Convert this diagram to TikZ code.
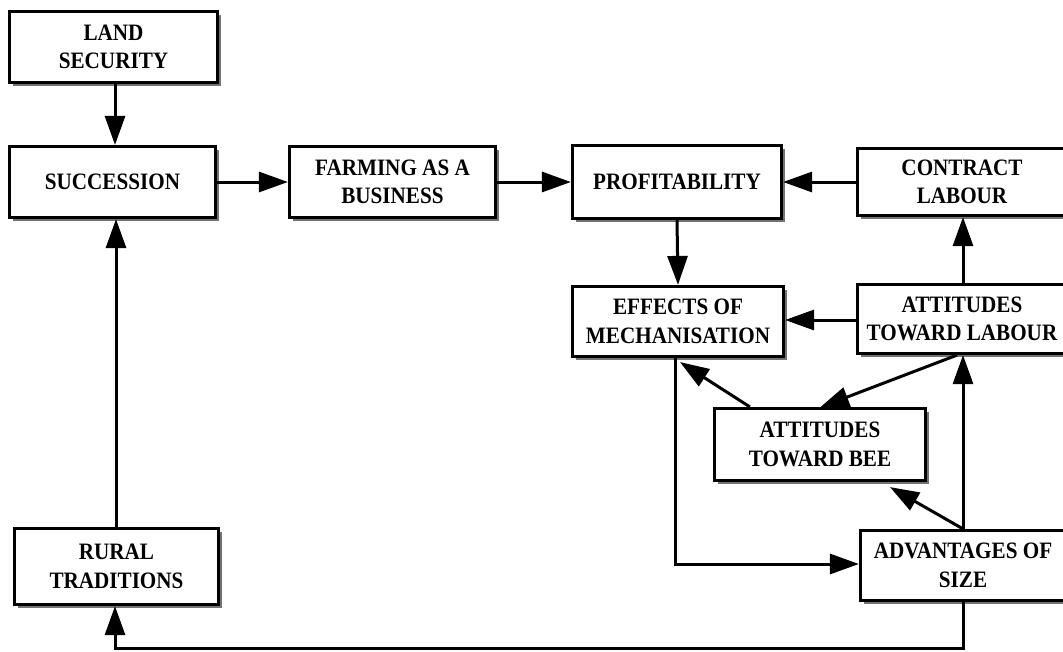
\documentclass[tikz,border=0pt]{standalone}
\usepackage{fontspec}
\setmainfont{Liberation Serif}[FakeStretch=0.9]
\usetikzlibrary{arrows.meta,shadows,calc}
\tikzset{
  box/.style={draw=black, line width=3.2pt, fill=white, align=center, inner sep=0pt,
    font=\fontsize{23.5}{28.5}\selectfont\bfseries,
    drop shadow={shadow xshift=3.5pt, shadow yshift=-3.5pt, fill=black!55, opacity=1}},
  arr/.style={line width=3pt, -{Triangle[length=29pt,width=20pt]}},
  ln/.style={line width=3pt}
}
\begin{document}
\begin{tikzpicture}[x=1pt,y=-1pt]
\useasboundingbox (0,0) rectangle (1063,651);
\clip (0,0) rectangle (1063,651);
\fill[white] (0,0) rectangle (1063,651);
\node[box, minimum width=208pt, minimum height=71pt] (land) at (113.5,47) {LAND\\SECURITY};
\node[box, minimum width=206pt, minimum height=71pt] (succ) at (112.5,182) {SUCCESSION};
\node[box, minimum width=206pt, minimum height=71pt] (farm) at (392.5,182) {FARMING AS A\\BUSINESS};
\node[box, minimum width=209pt, minimum height=73pt] (prof) at (677,182) {PROFITABILITY};
\node[box, minimum width=209pt, minimum height=67pt] (contract) at (962,182) {CONTRACT\\LABOUR};
\node[box, minimum width=211pt, minimum height=70pt] (eff) at (678,321.5) {EFFECTS OF\\MECHANISATION};
\node[box, minimum width=209pt, minimum height=69pt] (attlab) at (962,319) {ATTITUDES\\TOWARD LABOUR};
\node[box, minimum width=211pt, minimum height=72pt] (bee) at (820,444.5) {ATTITUDES\\TOWARD BEE};
\node[box, minimum width=205pt, minimum height=70pt] (adv) at (963,565.5) {ADVANTAGES OF\\SIZE};
\node[box, minimum width=204pt, minimum height=76pt] (rural) at (116.5,566.5) {RURAL\\TRADITIONS};

\draw[arr] ([xshift=1.5pt]land.south) -- ([xshift=2.5pt]succ.north);
\draw[arr] (succ.east) -- (farm.west);
\draw[arr] (farm.east) -- (prof.west);
\draw[arr] (contract.west) -- (prof.west -| prof.east);
\draw[arr] (prof.south) -- (eff.north);
\draw[arr] ([xshift=1pt]attlab.north) -- ([xshift=1pt]contract.south);
\draw[arr] ([yshift=-1pt]attlab.west) -- ([yshift=-1pt]attlab.west -| eff.east);
\draw[arr] ([xshift=-5pt]attlab.south) -- ([yshift=-0.5pt]bee.north);
\draw[arr] ([xshift=37pt]bee.north west) -- ([xshift=2pt,yshift=-4pt]eff.south);
\draw[arr] ([xshift=-3pt]eff.south) |- ([yshift=1.5pt]adv.west);
\draw[arr] (adv.north) -- (adv.north |- attlab.south);
\draw[arr] (adv.north) -- ([xshift=70pt,yshift=-5pt]bee.south);
\draw[arr] (adv.south) -- ++(0,46) -| ([xshift=-1.5pt]rural.south);
\draw[arr] ([xshift=-0.5pt]rural.north) -- ([xshift=-0.5pt]rural.north |- succ.south);
\end{tikzpicture}
\end{document}
